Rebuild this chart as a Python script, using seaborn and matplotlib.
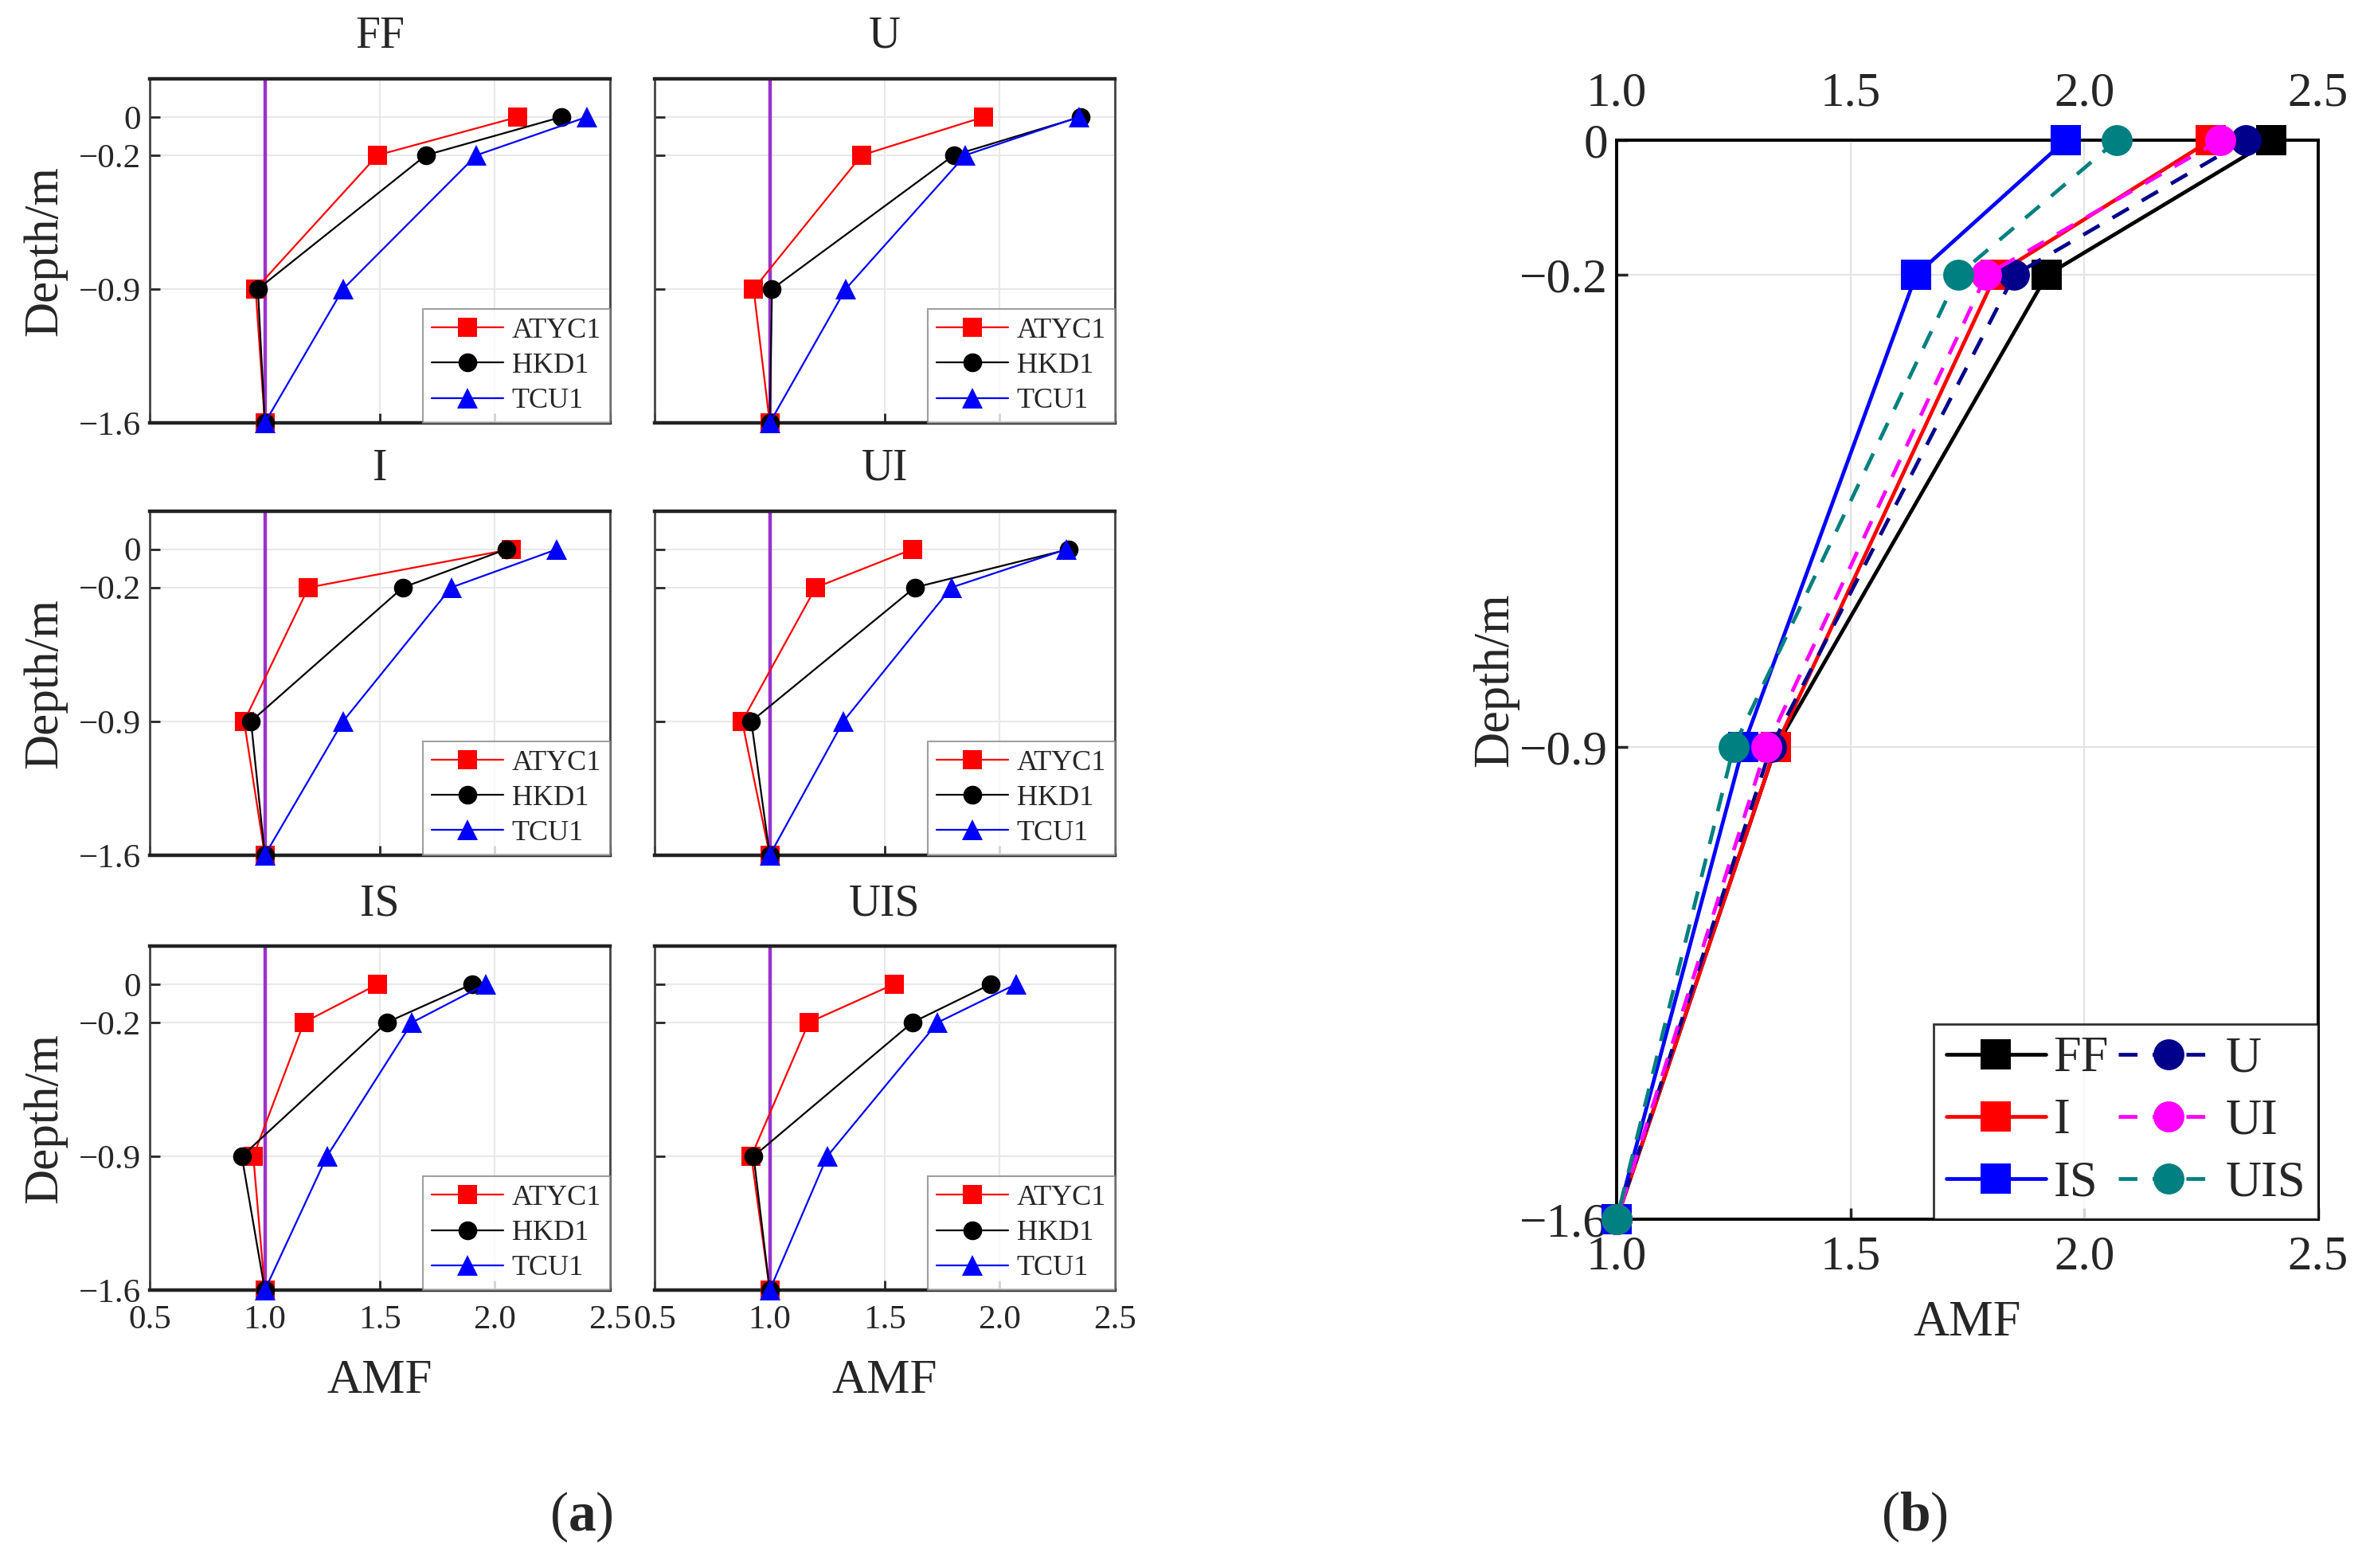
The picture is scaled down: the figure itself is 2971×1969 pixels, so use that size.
import pandas as pd
import matplotlib
matplotlib.use("Agg")
import matplotlib.pyplot as plt
import seaborn as sns

depth = [0, -0.2, -0.9, -1.6]
depth_labels = ["0", "\u22120.2", "\u22120.9", "\u22121.6"]
cases = ["FF", "U", "I", "UI", "IS", "UIS"]
stations = ["ATYC1", "HKD1", "TCU1"]

# AMF at depth 0, -0.2, -0.9, -1.6 m
atyc1 = {
    "FF": [2.10, 1.49, 0.96, 1.0],
    "U": [1.93, 1.40, 0.93, 1.0],
    "I": [2.07, 1.19, 0.91, 1.0],
    "UI": [1.62, 1.20, 0.88, 1.0],
    "IS": [1.49, 1.17, 0.95, 1.0],
    "UIS": [1.54, 1.17, 0.92, 1.0],
}
hkd1 = {
    "FF": [2.29, 1.70, 0.97, 1.0],
    "U": [2.35, 1.80, 1.01, 1.0],
    "I": [2.05, 1.60, 0.94, 1.0],
    "UI": [2.30, 1.63, 0.92, 1.0],
    "IS": [1.90, 1.53, 0.90, 1.0],
    "UIS": [1.96, 1.62, 0.93, 1.0],
}
tcu1 = {
    "FF": [2.40, 1.92, 1.34, 1.0],
    "U": [2.345, 1.85, 1.33, 1.0],
    "I": [2.27, 1.81, 1.34, 1.0],
    "UI": [2.29, 1.79, 1.32, 1.0],
    "IS": [1.96, 1.64, 1.27, 1.0],
    "UIS": [2.07, 1.73, 1.25, 1.0],
}

rows = []
for st, table in zip(stations, [atyc1, hkd1, tcu1]):
    for case in cases:
        for d, v in zip(depth, table[case]):
            rows.append({"station": st, "case": case, "depth": d, "AMF": v})
df = pd.DataFrame(rows)

sns.set_theme(style="ticks")
plt.rcParams["font.family"] = ["Liberation Serif", "DejaVu Serif"]
plt.rcParams["mathtext.fontset"] = "custom"
plt.rcParams["mathtext.rm"] = "Liberation Serif"
plt.rcParams["mathtext.bf"] = "Liberation Serif:bold"
plt.rcParams["axes.unicode_minus"] = True

fig = plt.figure(figsize=(29.71, 19.69), dpi=100)

st_style = {
    "ATYC1": ("red", "s", 17),
    "HKD1": ("black", "o", 17),
    "TCU1": ("blue", "^", 19),
}

lefts = [0.0633, 0.2767]
bottoms = [0.7303, 0.4546, 0.1772]
for i, case in enumerate(cases):
    r, c = divmod(i, 2)
    ax = fig.add_axes([lefts[c], bottoms[r], 0.1945, 0.2195])
    ax.axvline(1.0, color="#9932CC", lw=3.2, zorder=1)
    for st in stations:
        col, mk, ms = st_style[st]
        sub = df[(df.station == st) & (df.case == case)]
        sns.lineplot(data=sub, x="AMF", y="depth", orient="y", sort=False,
                     estimator=None, color=col, marker=mk, markersize=ms,
                     markeredgewidth=0, lw=1.6, label=st, ax=ax,
                     clip_on=False, zorder=3)
    ax.set_xlim(0.5, 2.5)
    ax.set_ylim(-1.6, 0.2)
    ax.set_xticks([0.5, 1.0, 1.5, 2.0, 2.5])
    ax.set_yticks(depth)
    ax.grid(True, color="#e8e8e8", lw=1.5)
    ax.tick_params(direction="in", length=9, width=2, labelsize=31, pad=8)
    ax.tick_params(axis="x", pad=13)
    for side in ["top", "bottom"]:
        ax.spines[side].set_linewidth(3.2)
        ax.spines[side].set_color("#222222")
    for side in ["left", "right"]:
        ax.spines[side].set_linewidth(2)
        ax.spines[side].set_color("#444444")
    if c == 0:
        ax.set_yticklabels(depth_labels)
        ax.set_ylabel("Depth/m", fontsize=44)
        ax.yaxis.set_label_coords(-0.18, 0.5)
    else:
        ax.set_yticklabels([])
        ax.set_ylabel("")
    if r == 2:
        ax.set_xticklabels(["0.5", "1.0", "1.5", "2.0", "2.5"])
        ax.set_xlabel("AMF", fontsize=44)
        ax.xaxis.set_label_coords(0.5, -0.2)
    else:
        ax.set_xticklabels([])
        ax.set_xlabel("")
    ax.set_title(case, fontsize=40, pad=28)
    leg = ax.legend(loc="lower right", fontsize=26, frameon=True, fancybox=False,
                    edgecolor="#888888", borderaxespad=0, handlelength=2.5,
                    handletextpad=0.3, labelspacing=0.3, borderpad=0.3)
    leg.get_frame().set_linewidth(1.5)

# panel (b): TCU1 for all cases
b_order = ["FF", "I", "IS", "U", "UI", "UIS"]
b_style = {
    "FF": ("black", "-", "s"),
    "I": ("red", "-", "s"),
    "IS": ("blue", "-", "s"),
    "U": ("#00008B", (0, (5, 4)), "o"),
    "UI": ("magenta", (0, (5, 4)), "o"),
    "UIS": ("#008080", (0, (5, 4)), "o"),
}
axb = fig.add_axes([0.6833, 0.2224, 0.2965, 0.6882])
tcu = df[df.station == "TCU1"]
for case in b_order:
    col, ls, mk = b_style[case]
    sub = tcu[tcu.case == case]
    sns.lineplot(data=sub, x="AMF", y="depth", orient="y", sort=False,
                 estimator=None, color=col, linestyle=ls, marker=mk,
                 markersize=28, markeredgewidth=0, lw=3.4, label=case,
                 ax=axb, clip_on=False, zorder=3)
axb.set_xlim(1.0, 2.5)
axb.set_ylim(-1.6, 0)
b_xticks = [1.0, 1.5, 2.0, 2.5]
b_xlabels = ["1.0", "1.5", "2.0", "2.5"]
axb.set_xticks(b_xticks)
axb.set_xticklabels(b_xlabels)
axb.set_yticks(depth)
axb.set_yticklabels(depth_labels)
axb.grid(True, color="#e3e3e3", lw=1.5)
axb.tick_params(direction="in", length=10, width=2.5, labelsize=44, pad=8)
axb.tick_params(axis="x", pad=14)
for side in axb.spines:
    axb.spines[side].set_linewidth(2.8)
    axb.spines[side].set_color("black")
top = axb.secondary_xaxis("top")
top.set_xticks(b_xticks)
top.set_xticklabels(b_xlabels)
top.tick_params(direction="in", length=0, labelsize=44, pad=22)
top.spines["top"].set_linewidth(2.8)
axb.set_ylabel("Depth/m", fontsize=45)
axb.yaxis.set_label_coords(-0.14, 0.5)
axb.set_xlabel("AMF", fontsize=45)
axb.xaxis.set_label_coords(0.5, -0.075)
legb = axb.legend(loc="lower right", ncol=2, fontsize=45, frameon=True,
                  fancybox=False, edgecolor="black", borderaxespad=0,
                  handlelength=2.0, handletextpad=0.15, columnspacing=0.2,
                  labelspacing=0.32, borderpad=0.25)
legb.get_frame().set_linewidth(2)

fig.text(0.2457, 0.0325, r"($\mathbf{a}$)", fontsize=50, ha="center", va="center")
fig.text(0.809, 0.0325, r"($\mathbf{b}$)", fontsize=50, ha="center", va="center")

fig.savefig("out.png", dpi=100, facecolor="white")
